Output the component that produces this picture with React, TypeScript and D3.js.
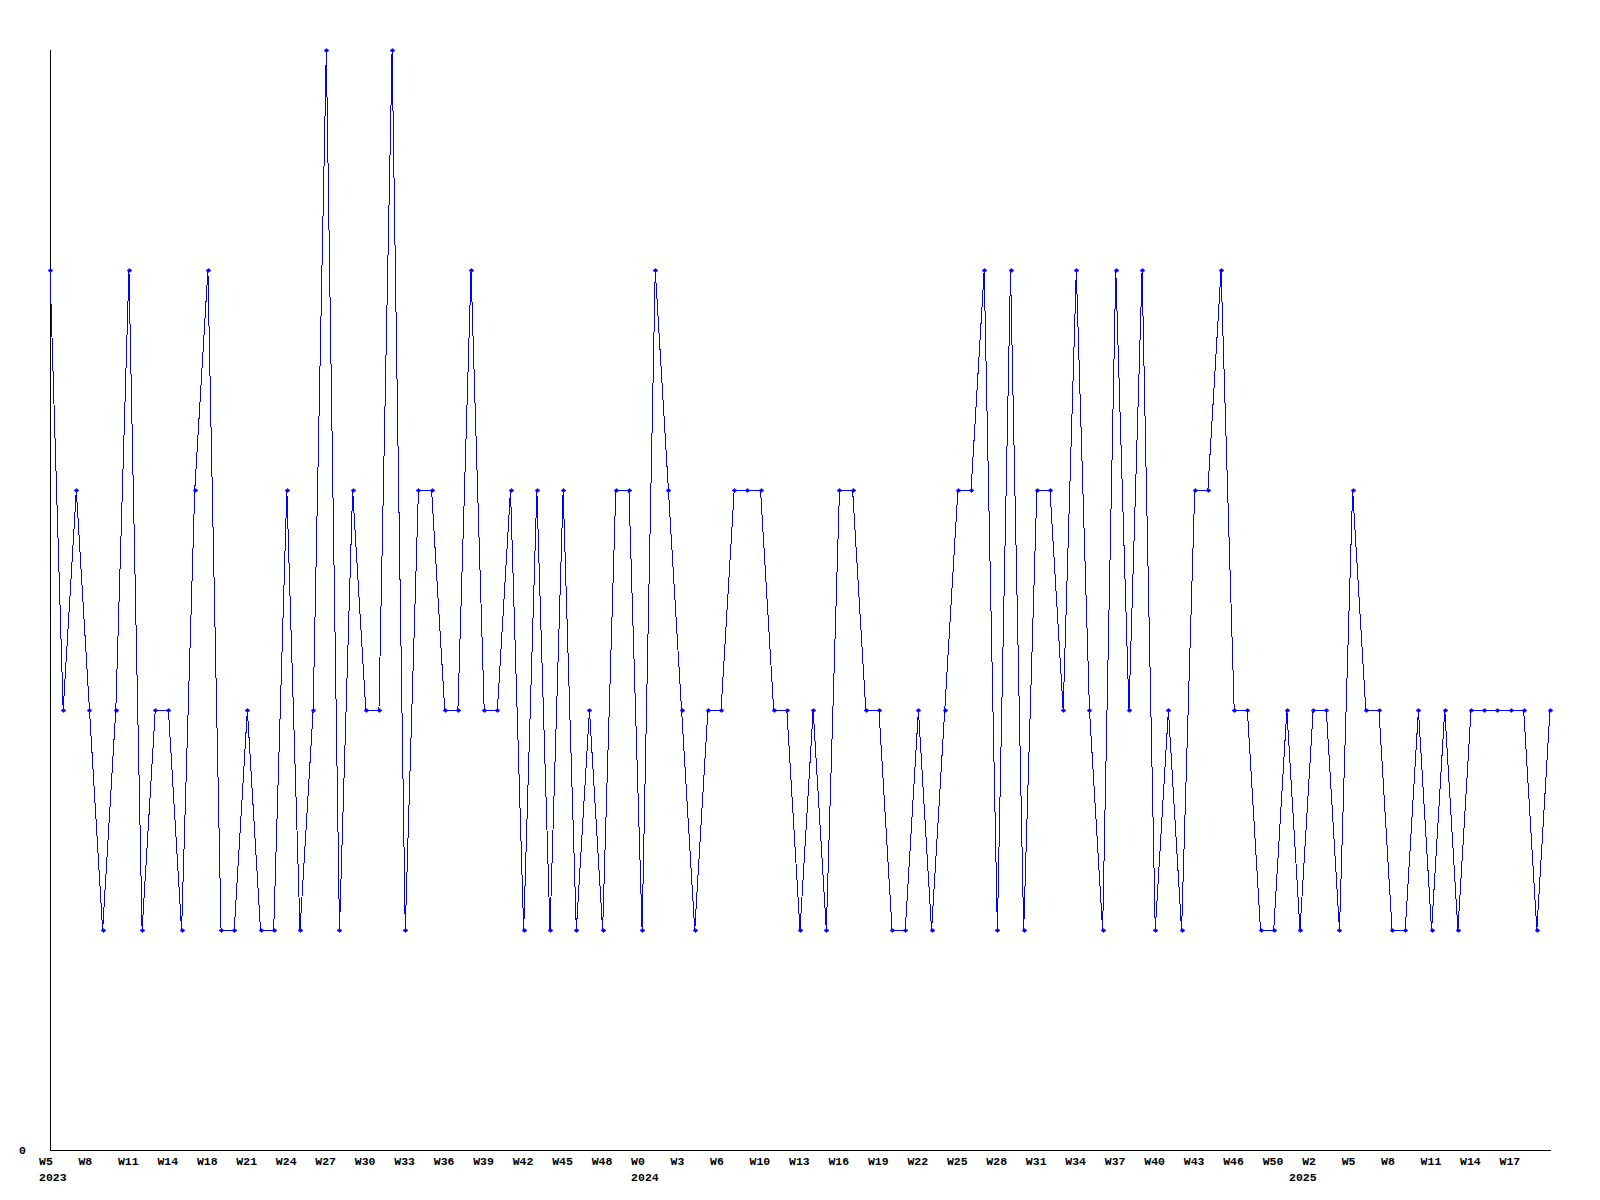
import React from "react";
import * as d3 from "d3";

// Weekly values (one per week, 115 weeks)
const values: number[] = [
  4, 2, 3, 2, 1, 2, 4, 1, 2, 2, 1, 3, 4, 1, 1, 2, 1, 1, 3, 1,
  2, 5, 1, 3, 2, 2, 5, 1, 3, 3, 2, 2, 4, 2, 2, 3, 1, 3, 1,
  3, 1, 2, 1, 3, 3, 1, 4, 3, 2, 1, 2, 2, 3, 3, 3, 2, 2, 1, 2,
  1, 3, 3, 2, 2, 1, 1, 2, 1, 2, 3, 3, 4, 1, 4, 1, 3, 3, 2, 4,
  2, 1, 4, 2, 4, 1, 2, 1, 3, 3, 4, 2, 2, 1, 1, 2, 1, 2, 2, 1,
  3, 2, 2, 1, 1, 2, 1, 2, 1, 2, 2, 2, 2, 2, 1, 2,
];

// Tick labels, one for every third week
const weekLabels: string[] = [
  "W5", "W8", "W11", "W14", "W18", "W21", "W24", "W27", "W30", "W33",
  "W36", "W39", "W42", "W45", "W48", "W0", "W3", "W6", "W10", "W13",
  "W16", "W19", "W22", "W25", "W28", "W31", "W34", "W37", "W40", "W43",
  "W46", "W50", "W2", "W5", "W8", "W11", "W14", "W17",
];
const tickStep = 3;

// Year labels: [week index where the year label sits, year]
const yearLabels: [number, string][] = [
  [0, "2023"],
  [45, "2024"],
  [95, "2025"],
];

const yTickValues: number[] = [0];

export default function App() {
  const W = 1600;
  const H = 1200;
  const left = 50;
  const right = 1550;
  const top = 50;
  const bottom = 1150;

  const x = d3.scaleLinear().domain([0, values.length - 1]).range([left, right]);
  const y = d3.scaleLinear().domain([0, 5]).range([bottom, top]);

  const line = d3
    .line<number>()
    .x((_, i) => x(i))
    .y((d) => y(d));

  const font = "'Liberation Mono', 'DejaVu Sans Mono', monospace";

  return (
    <div style={{ position: "absolute", left: 0, top: 0 }}>
      <svg width={W} height={H} style={{ display: "block", background: "#fff" }}>
        <rect x={0} y={0} width={W} height={H} fill="#fff" />
        {/* axes */}
        <line x1={left + 0.5} x2={left + 0.5} y1={top} y2={bottom + 0.5} stroke="#000" strokeWidth={1} />
        <line x1={left} x2={right + 1} y1={bottom + 0.5} y2={bottom + 0.5} stroke="#000" strokeWidth={1} />
        {/* y tick labels */}
        {yTickValues.map((v) => (
          <text
            key={"y" + v}
            x={26}
            y={y(v) + 3.5}
            textAnchor="end"
            fontFamily={font}
            fontWeight="bold"
            fontSize={11.5}
            fill="#000"
          >
            {v}
          </text>
        ))}
        {/* x tick labels */}
        {weekLabels.map((lab, k) => (
          <text
            key={"x" + k}
            x={x(k * tickStep) - 11}
            y={1165}
            textAnchor="start"
            fontFamily={font}
            fontWeight="bold"
            fontSize={11.5}
            fill="#000"
          >
            {lab}
          </text>
        ))}
        {yearLabels.map(([idx, yr]) => (
          <text
            key={"yr" + yr}
            x={x(idx) - 11}
            y={1181}
            textAnchor="start"
            fontFamily={font}
            fontWeight="bold"
            fontSize={11.5}
            fill="#000"
          >
            {yr}
          </text>
        ))}
        {/* series line */}
        <path
          d={line(values) || ""}
          fill="none"
          stroke="#0000ff"
          strokeWidth={1}
          shapeRendering="crispEdges"
        />
        {/* markers */}
        {values.map((v, i) => {
          const cx = Math.round(x(i)) + 0.5;
          const cy = Math.round(y(v)) + 0.5;
          return (
            <path
              key={"m" + i}
              d={`M${cx - 2.5},${cy} L${cx},${cy - 2} L${cx + 2.5},${cy} L${cx},${cy + 2} Z`}
              fill="#0000ff"
              stroke="#0000ff"
              strokeWidth={0.5}
            />
          );
        })}
      </svg>
    </div>
  );
}
